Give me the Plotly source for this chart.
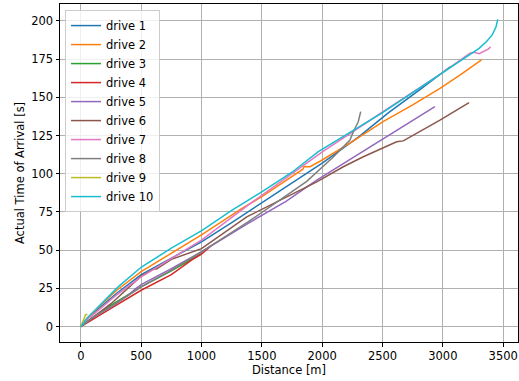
import plotly.graph_objects as go

names = ["drive 1", "drive 2", "drive 3", "drive 4", "drive 5",
         "drive 6", "drive 7", "drive 8", "drive 9", "drive 10"]
colors = ["#1f77b4", "#ff7f0e", "#2ca02c", "#d62728", "#9467bd",
          "#8c564b", "#e377c2", "#7f7f7f", "#bcbd22", "#17becf"]

d1_x = [0, 50, 150, 300, 500, 750, 1000, 1250, 1500, 1750, 2000, 2300, 2550, 2810, 3060]
d1_y = [0, 5, 12, 22, 34, 45, 55.5, 68, 81, 94, 107, 124, 140, 155, 170]

d2_x = [0, 50, 150, 300, 500, 750, 1000, 1319, 1500, 1840, 1850, 1900, 2000, 2250, 2501, 2750, 2976, 3150, 3320]
d2_y = [0, 5, 13, 24, 36, 48, 60, 76.6, 85, 103, 104.8, 104.6, 109, 121, 134, 145, 155.8, 165, 174.5]

d3_x = [0, 100, 250, 500, 750, 1000]
d3_y = [0, 6, 14, 26, 36.5, 47.8]

d4_x = [0, 100, 250, 500, 750, 917, 1000, 1080]
d4_y = [0, 5, 12, 23.8, 34, 43.5, 47.5, 53]

d5_x = [0, 100, 250, 400, 450, 500, 750, 1000, 1386, 1700, 1955, 2230, 2506, 2755, 2934]
d5_y = [0, 6, 13, 21, 24.5, 27.5, 38, 49, 67.5, 82, 95.8, 109.4, 122.9, 135.1, 143.9]

d6_x = [0, 100, 250, 500, 600, 630, 750, 1000, 1375, 1955, 2175, 2341, 2617, 2672, 2976, 3217]
d6_y = [0, 6, 15, 33, 37.5, 37.8, 44, 51, 71.8, 94.7, 104.6, 111.1, 120.9, 121.5, 135.1, 146.5]

d7_x = [0, 50, 150, 300, 500, 750, 1000, 1386, 1500, 1927, 2004, 2501, 2976, 3225, 3260, 3300, 3340, 3376, 3395]
d7_y = [0, 4.5, 11, 21, 32.5, 44.5, 56.6, 79.5, 86, 110, 114.5, 140.4, 165, 178.8, 179.5, 178.5, 180, 181.5, 183]

d8_x = [0, 100, 250, 500, 750, 1000, 1386, 1595, 1872, 2092, 2230, 2258, 2299, 2319]
d8_y = [0, 6, 13, 26, 37, 48.9, 68.5, 80, 95, 111, 122, 127.5, 134, 140.6]

d9_x = [0, 20, 40, 55]
d9_y = [0, 4, 8, 8]

d10_x = [0, 50, 143, 309, 502, 750, 1005, 1250, 1499, 1750, 1968, 2250, 2500, 2750, 3000, 3225, 3300, 3362, 3410, 3440, 3455]
d10_y = [0, 5.5, 12.9, 26, 39, 51.3, 63, 76, 88.2, 101, 114.5, 128, 140, 153, 166, 178, 182, 186.5, 191, 196, 201]

xs = [d1_x, d2_x, d3_x, d4_x, d5_x, d6_x, d7_x, d8_x, d9_x, d10_x]
ys = [d1_y, d2_y, d3_y, d4_y, d5_y, d6_y, d7_y, d8_y, d9_y, d10_y]

x_ticks = [0, 500, 1000, 1500, 2000, 2500, 3000, 3500]
y_ticks = [0, 25, 50, 75, 100, 125, 150, 175, 200]

fig = go.Figure()
for n, c, x, y in zip(names, colors, xs, ys):
    fig.add_trace(go.Scatter(x=x, y=y, mode="lines", name=n,
                             line=dict(color=c, width=1.5)))

axis_common = dict(showline=True, linecolor="black", linewidth=1, mirror=True,
                   ticks="outside", ticklen=3.5, tickcolor="black", tickwidth=1,
                   showgrid=True, gridcolor="#b0b0b0", gridwidth=0.8,
                   zeroline=False, automargin=False,
                   tickfont=dict(size=11.5, color="black"))

fig.update_layout(
    width=519, height=381,
    margin=dict(l=60, r=1, t=4, b=39),
    paper_bgcolor="white", plot_bgcolor="white",
    font=dict(family="DejaVu Sans", size=11.5, color="black"),
    xaxis=dict(range=[-172.5, 3622.5], tickvals=x_ticks,
               title=dict(text="Distance [m]", standoff=3, font=dict(size=11.5)),
               **axis_common),
    yaxis=dict(range=[-10.05, 211.05], tickvals=y_ticks,
               title=dict(text="Actual Time of Arrival [s]", standoff=4, font=dict(size=11.5)),
               **axis_common),
    legend=dict(x=0.011, y=0.982, xanchor="left", yanchor="top",
                bgcolor="rgba(255,255,255,0.8)", bordercolor="#cccccc", borderwidth=1,
                font=dict(size=11.5), itemwidth=30, tracegroupgap=0),
)

fig.write_html("out.html", config={"displayModeBar": False},
               post_script="document.body.style.margin='0';document.body.style.overflow='hidden';")
